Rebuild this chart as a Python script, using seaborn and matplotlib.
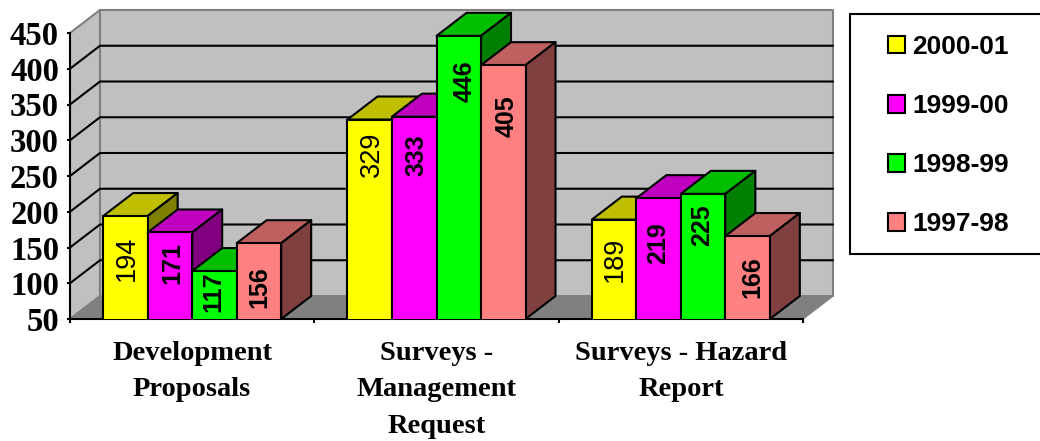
import matplotlib
matplotlib.use("Agg")
import matplotlib.pyplot as plt
from matplotlib.colors import to_rgb
from matplotlib.lines import Line2D
from matplotlib.patches import Patch, Polygon, Rectangle
import pandas as pd
import seaborn as sns

categories = ["Development\nProposals", "Surveys -\nManagement\nRequest", "Surveys - Hazard\nReport"]
seasons = ["2000-01", "1999-00", "1998-99", "1997-98"]
values_2000_01 = [194, 329, 189]
values_1999_00 = [171, 333, 219]
values_1998_99 = [117, 446, 225]
values_1997_98 = [156, 405, 166]
season_colors = ["#FFFF00", "#FF00FF", "#00FF00", "#FF8080"]
y_ticks = [50, 100, 150, 200, 250, 300, 350, 400, 450]

# Placement of the rotated labels relative to each bar's top centre, in pixels
label_drops = [[20, 12, 17], [10, 18, 24], [0, 25, 11], [23, 30, 20]]
label_shifts = [[1, 2, 1], [2, 2, 0], [-1, 6, -1], [0, 3, 5]]

W, H = 1040, 441
AX_L, AX_R, AX_T, AX_B = 70, 803, 33, 319
DEPTH_X_PX, DEPTH_Y_PX = 30, 23

sns.set_theme(style="white")
plt.rcParams["font.family"] = ["Liberation Sans", "DejaVu Sans"]

frame = pd.DataFrame({
    "category": categories * 4,
    "season": [s for s in seasons for _ in categories],
    "value": values_2000_01 + values_1999_00 + values_1998_99 + values_1997_98,
})

fig = plt.figure(figsize=(W / 100, H / 100), dpi=100, facecolor="white")
ax = fig.add_axes([AX_L / W, 1 - AX_B / H, (AX_R - AX_L) / W, (AX_B - AX_T) / H])
ax.patch.set_visible(False)

sns.barplot(data=frame, x="category", y="value", hue="season", hue_order=seasons,
            palette=season_colors, saturation=1, width=0.7286, dodge=True,
            edgecolor="black", linewidth=1.5, legend=False, ax=ax)
ax.set_xlim(-0.5, 2.5)
ax.set_ylim(min(y_ticks), max(y_ticks))

dx = DEPTH_X_PX * 3 / (AX_R - AX_L)
dy = DEPTH_Y_PX * (max(y_ticks) - min(y_ticks)) / (AX_B - AX_T)


def shade(color, factor):
    return tuple(c * factor for c in to_rgb(color))


def add_face(points, face, edge, lw, z):
    ax.add_patch(Polygon(points, closed=True, facecolor=face, edgecolor=edge,
                         linewidth=lw, zorder=z, clip_on=False, joinstyle="round"))


# Room behind the bars: side wall, back wall and floor
x0, x1 = -0.5, 2.5
y0, y1 = min(y_ticks), max(y_ticks)
wall_edge = "#808080"
add_face([(x0, y0), (x0 + dx, y0 + dy), (x0 + dx, y1 + dy), (x0, y1)], "#C0C0C0", wall_edge, 1.5, 0.5)
add_face([(x0 + dx, y0 + dy), (x1 + dx, y0 + dy), (x1 + dx, y1 + dy), (x0 + dx, y1 + dy)], "#C0C0C0", wall_edge, 1.5, 0.5)
add_face([(x0, y0), (x1, y0), (x1 + dx, y0 + dy), (x0 + dx, y0 + dy)], "#808080", wall_edge, 1.0, 0.6)

for tick in y_ticks[1:-1]:
    ax.add_line(Line2D([x0, x0 + dx, x1 + dx], [tick, tick + dy, tick + dy],
                       color="black", lw=1.5, zorder=0.8, clip_on=False))

# Extrude every bar upwards and to the right, left-hand bars first so neighbours overlap them
z = 3.0
for c_idx in range(len(categories)):
    for s_idx, container in enumerate(ax.containers):
        bar = container[c_idx]
        left, width, top = bar.get_x(), bar.get_width(), bar.get_height()
        right = left + width
        color = season_colors[s_idx]
        add_face([(left, top), (right, top), (right + dx, top + dy), (left + dx, top + dy)],
                 shade(color, 0.75), "black", 1.5, z)
        add_face([(right, y0), (right + dx, y0 + dy), (right + dx, top + dy), (right, top)],
                 shade(color, 0.5), "black", 1.5, z)
        bar.set_zorder(z + 0.1)
        ax.annotate(f"{int(top)}", xy=(left + width / 2, top),
                    xytext=(label_shifts[s_idx][c_idx], -label_drops[s_idx][c_idx]),
                    textcoords="offset pixels", rotation=90, ha="center", va="top",
                    fontsize=19.5 if s_idx == 0 else 18, color="black",
                    fontweight="normal" if s_idx == 0 else "bold", zorder=z + 0.2)
        z += 1

# Axes frame, ticks and labels
sns.despine(ax=ax, top=True, right=True)
for side in ("left", "bottom"):
    ax.spines[side].set_color("black")
    ax.spines[side].set_linewidth(1.5)
ax.set_xlabel("")
ax.set_ylabel("")
ax.set_yticks(y_ticks)
ax.set_yticklabels([str(t) for t in y_ticks], family="Liberation Serif", fontweight="bold",
                   fontsize=23.5, color="black")
ax.tick_params(axis="y", left=True, length=2, width=1.5, color="black", pad=6)
ax.set_xticks(range(len(categories)))
ax.set_xticklabels(categories, family="Liberation Serif", fontweight="bold", fontsize=20.5,
                   color="black", linespacing=1.62)
ax.set_xticks([-0.5, 0.5, 1.5, 2.5], minor=True)
ax.tick_params(axis="x", which="major", bottom=False, length=0, pad=15.5)
ax.tick_params(axis="x", which="minor", bottom=True, length=3, width=1.5, color="black")

# Legend in its own frame, running off the right of the canvas
fig.add_artist(Rectangle((850 / W, 1 - 254 / H), 200 / W, 240 / H, transform=fig.transFigure,
                         facecolor="white", edgecolor="black", linewidth=1.5))
handles = [Patch(facecolor=c, edgecolor="black", linewidth=1.5) for c in season_colors]
fig.legend(handles, seasons, loc="upper left", bbox_to_anchor=(888 / W, 1 - 35 / H),
           bbox_transform=fig.transFigure, frameon=False, handlelength=0.64, handleheight=0.64,
           handletextpad=0.28, labelspacing=1.33, borderpad=0, borderaxespad=0,
           labelcolor="black",
           prop={"family": "Liberation Sans", "weight": "bold", "size": 19})

fig.savefig("out.png", dpi=100)
